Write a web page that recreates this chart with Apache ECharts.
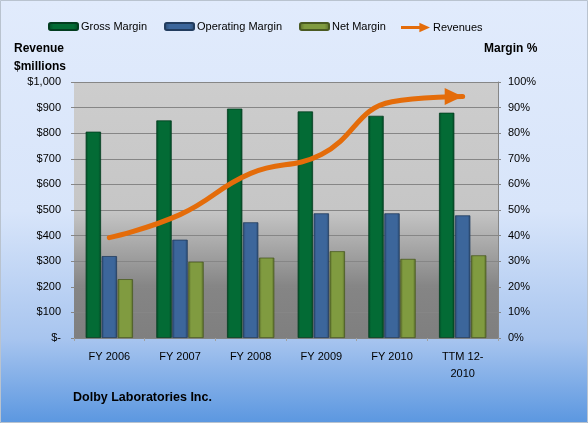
<!DOCTYPE html>
<html>
<head>
<meta charset="utf-8">
<script src="https://cdn.jsdelivr.net/npm/echarts@6/dist/echarts.min.js"></script>
<style>html,body{margin:0;padding:0;}#c{width:588px;height:423px;}</style>
</head>
<body>
<div id="c"></div>
<script>
var categories = ['FY 2006', 'FY 2007', 'FY 2008', 'FY 2009', 'FY 2010', 'TTM 12-\n2010'];
var grossMargin = [80.6, 85.0, 89.6, 88.5, 86.8, 88.0];
var operatingMargin = [32.0, 38.4, 45.2, 48.7, 48.7, 47.9];
var netMargin = [23.0, 29.8, 31.4, 33.9, 30.9, 32.3];
var revenues = [392, 482, 643, 717, 923, 943];

var FONT = 'Liberation Sans';
function bevel(edge, mid) {
  return {type: 'linear', x: 0, y: 0, x2: 1, y2: 0, colorStops: [
    {offset: 0, color: edge}, {offset: 0.18, color: mid}, {offset: 0.82, color: mid}, {offset: 1, color: edge}]};
}
var revData = revenues.map(function (v, i) {
  if (i === revenues.length - 1) {
    return {value: v, symbol: 'triangle', symbolSize: [17, 18], symbolRotate: -90, symbolOffset: [-9, 0]};
  }
  return v;
});

var chart = echarts.init(document.getElementById('c'));
chart.setOption({
  animation: false,
  backgroundColor: {type: 'linear', x: 0, y: 0, x2: 0, y2: 1, colorStops: [
    {offset: 0, color: '#e1ebfc'}, {offset: 0.5, color: '#d8e5fa'}, {offset: 0.8, color: '#a8c5ef'}, {offset: 1, color: '#5b97e0'}]},
  textStyle: {fontFamily: FONT, color: '#000'},
  graphic: [
    {type: 'rect', shape: {x: 0.5, y: 0.5, width: 587, height: 422}, style: {fill: null, stroke: '#b9c3cf', lineWidth: 1}},
    {type: 'text', left: 14, top: 43, style: {text: 'Revenue', font: 'bold 12px "Liberation Sans"', fill: '#000'}},
    {type: 'text', left: 14, top: 61, style: {text: '$millions', font: 'bold 12px "Liberation Sans"', fill: '#000'}},
    {type: 'text', left: 484, top: 43, style: {text: 'Margin %', font: 'bold 12px "Liberation Sans"', fill: '#000'}},
    {type: 'text', left: 73, top: 391, style: {text: 'Dolby Laboratories Inc.', font: 'bold 12.5px "Liberation Sans"', fill: '#000'}}
  ],
  legend: [
    {left: 48, top: 21, padding: 0, itemWidth: 29, itemHeight: 7, itemGap: 17,
     textStyle: {fontFamily: FONT, fontSize: 11, color: '#000', padding: [0, 0, 0, -2]},
     data: ['Gross Margin', 'Operating Margin', 'Net Margin']},
    {left: 401, top: 22, padding: 0, itemWidth: 29, itemHeight: 15,
     textStyle: {fontFamily: FONT, fontSize: 11, color: '#000', padding: [0, 0, 0, -2]},
     data: [{name: 'Revenues', icon: 'path://M0,3.5 L19,3.5 L19,0 L30,5 L19,10 L19,6.5 L0,6.5 Z'}]}
  ],
  grid: {left: 74, right: 90, top: 82, bottom: 85, show: true, borderWidth: 0,
    backgroundColor: {type: 'linear', x: 0, y: 0, x2: 0, y2: 1, colorStops: [
      {offset: 0, color: '#cdcdcd'}, {offset: 0.5, color: '#c6c6c6'}, {offset: 0.8, color: '#858585'}, {offset: 1, color: '#7f7f7f'}]}},
  xAxis: {type: 'category', data: categories,
    axisLine: {lineStyle: {color: '#868686'}},
    axisTick: {show: true, length: 3, lineStyle: {color: '#a0a0a0'}},
    axisLabel: {color: '#000', fontFamily: FONT, fontSize: 11, margin: 10, lineHeight: 17}},
  yAxis: [
    {type: 'value', min: 0, max: 1000, interval: 100,
     axisLine: {show: false}, axisTick: {show: true, length: 3, lineStyle: {color: '#868686'}},
     splitLine: {show: true, lineStyle: {color: '#868686', width: 1}},
     axisLabel: {color: '#000', fontFamily: FONT, fontSize: 11, margin: 13,
       formatter: function (v) { return v === 0 ? '$-' : '$' + v.toLocaleString('en-US'); }}},
    {type: 'value', min: 0, max: 100, interval: 10,
     axisLine: {show: true, lineStyle: {color: '#868686'}}, axisTick: {show: true, length: 3, lineStyle: {color: '#868686'}},
     splitLine: {show: false},
     axisLabel: {color: '#000', fontFamily: FONT, fontSize: 11, margin: 10, formatter: '{value}%'}}
  ],
  series: [
    {name: 'Gross Margin', type: 'bar', yAxisIndex: 1, data: grossMargin, barGap: '4%', barCategoryGap: '33%',
     itemStyle: {color: bevel('#024a26', '#036b35'), borderColor: '#023d1f', borderWidth: 0.8}},
    {name: 'Operating Margin', type: 'bar', yAxisIndex: 1, data: operatingMargin, barGap: '4%', barCategoryGap: '33%',
     itemStyle: {color: bevel('#2a4a72', '#3c669b'), borderColor: '#223c5e', borderWidth: 0.8}},
    {name: 'Net Margin', type: 'bar', yAxisIndex: 1, data: netMargin, barGap: '4%', barCategoryGap: '33%',
     itemStyle: {color: bevel('#5a6e2a', '#809b40'), borderColor: '#4a5a22', borderWidth: 0.8}},
    {name: 'Revenues', type: 'line', yAxisIndex: 0, data: revData, smooth: 0.45,
     symbol: 'none', showSymbol: true, z: 5,
     lineStyle: {color: '#e46c0a', width: 5, cap: 'round'},
     itemStyle: {color: '#e46c0a'}}
  ]
});
</script>
</body>
</html>
